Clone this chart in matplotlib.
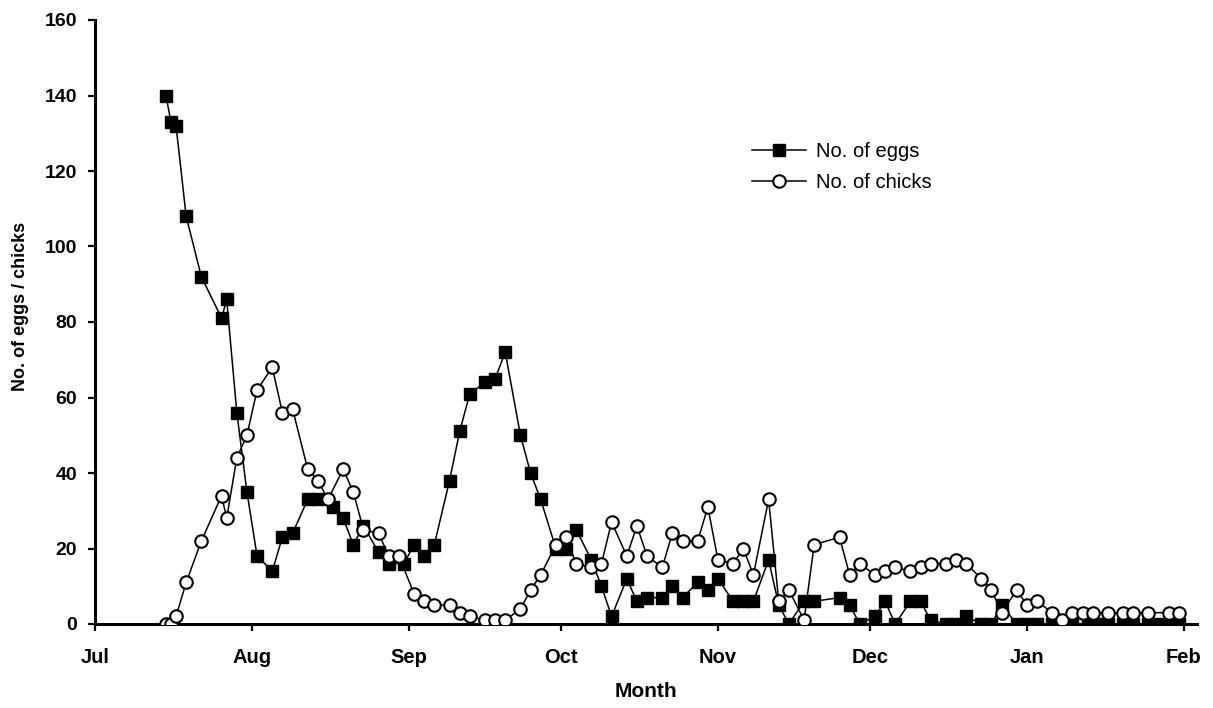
import matplotlib
matplotlib.use("Agg")
import matplotlib.pyplot as plt
import pandas as pd

plt.rcParams['font.family'] = ['Liberation Sans', 'DejaVu Sans']

# ---- data ----
egg_dates = ["2004-07-15", "2004-07-16", "2004-07-17", "2004-07-19", "2004-07-22", "2004-07-26",
             "2004-07-27", "2004-07-29", "2004-07-31", "2004-08-02", "2004-08-05", "2004-08-07",
             "2004-08-09", "2004-08-12", "2004-08-14", "2004-08-17", "2004-08-19", "2004-08-21",
             "2004-08-23", "2004-08-26", "2004-08-28", "2004-08-31", "2004-09-02", "2004-09-04",
             "2004-09-06", "2004-09-09", "2004-09-11", "2004-09-13", "2004-09-16", "2004-09-18",
             "2004-09-20", "2004-09-23", "2004-09-25", "2004-09-27", "2004-09-30", "2004-10-02",
             "2004-10-04", "2004-10-07", "2004-10-09", "2004-10-11", "2004-10-14", "2004-10-16",
             "2004-10-18", "2004-10-21", "2004-10-23", "2004-10-25", "2004-10-28", "2004-10-30",
             "2004-11-01", "2004-11-04", "2004-11-06", "2004-11-08", "2004-11-11", "2004-11-13",
             "2004-11-15", "2004-11-18", "2004-11-20", "2004-11-25", "2004-11-27", "2004-11-29",
             "2004-12-02", "2004-12-04", "2004-12-06", "2004-12-09", "2004-12-11", "2004-12-13",
             "2004-12-16", "2004-12-18", "2004-12-20", "2004-12-23", "2004-12-25", "2004-12-27",
             "2004-12-30", "2005-01-01", "2005-01-03", "2005-01-06", "2005-01-08", "2005-01-10",
             "2005-01-13", "2005-01-15", "2005-01-17", "2005-01-20", "2005-01-22", "2005-01-25",
             "2005-01-27", "2005-01-29", "2005-01-31"]
eggs = [140, 133, 132, 108, 92, 81,
        86, 56, 35, 18, 14, 23,
        24, 33, 33, 31, 28, 21,
        26, 19, 16, 16, 21, 18,
        21, 38, 51, 61, 64, 65,
        72, 50, 40, 33, 20, 20,
        25, 17, 10, 2, 12, 6,
        7, 7, 10, 7, 11, 9,
        12, 6, 6, 6, 17, 5,
        0, 6, 6, 7, 5, 0,
        2, 6, 0, 6, 6, 1,
        0, 0, 2, 0, 0, 5,
        0, 0, 0, 0, 0, 0,
        0, 0, 0, 0, 0, 0,
        0, 0, 0]

chick_dates = ["2004-07-15", "2004-07-16", "2004-07-17", "2004-07-19", "2004-07-22", "2004-07-26",
               "2004-07-27", "2004-07-29", "2004-07-31", "2004-08-02", "2004-08-05", "2004-08-07",
               "2004-08-09", "2004-08-12", "2004-08-14", "2004-08-16", "2004-08-19", "2004-08-21",
               "2004-08-23", "2004-08-26", "2004-08-28", "2004-08-30", "2004-09-02", "2004-09-04",
               "2004-09-06", "2004-09-09", "2004-09-11", "2004-09-13", "2004-09-16", "2004-09-18",
               "2004-09-20", "2004-09-23", "2004-09-25", "2004-09-27", "2004-09-30", "2004-10-02",
               "2004-10-04", "2004-10-07", "2004-10-09", "2004-10-11", "2004-10-14", "2004-10-16",
               "2004-10-18", "2004-10-21", "2004-10-23", "2004-10-25", "2004-10-28", "2004-10-30",
               "2004-11-01", "2004-11-04", "2004-11-06", "2004-11-08", "2004-11-11", "2004-11-13",
               "2004-11-15", "2004-11-18", "2004-11-20", "2004-11-25", "2004-11-27", "2004-11-29",
               "2004-12-02", "2004-12-04", "2004-12-06", "2004-12-09", "2004-12-11", "2004-12-13",
               "2004-12-16", "2004-12-18", "2004-12-20", "2004-12-23", "2004-12-25", "2004-12-27",
               "2004-12-30", "2005-01-01", "2005-01-03", "2005-01-06", "2005-01-08", "2005-01-10",
               "2005-01-12", "2005-01-14", "2005-01-17", "2005-01-20", "2005-01-22", "2005-01-25",
               "2005-01-29", "2005-01-31"]
chicks = [0, 0, 2, 11, 22, 34,
          28, 44, 50, 62, 68, 56,
          57, 41, 38, 33, 41, 35,
          25, 24, 18, 18, 8, 6,
          5, 5, 3, 2, 1, 1,
          1, 4, 9, 13, 21, 23,
          16, 15, 16, 27, 18, 26,
          18, 15, 24, 22, 22, 31,
          17, 16, 20, 13, 33, 6,
          9, 1, 21, 23, 13, 16,
          13, 14, 15, 14, 15, 16,
          16, 17, 16, 12, 9, 3,
          9, 5, 6, 3, 1, 3,
          3, 3, 3, 3, 3, 3,
          3, 3]

month_ticks = ["2004-07-01", "2004-08-01", "2004-09-01", "2004-10-01", "2004-11-01",
               "2004-12-01", "2005-01-01", "2005-02-01"]
month_labels = ["Jul", "Aug", "Sep", "Oct", "Nov", "Dec", "Jan", "Feb"]
y_ticks = [0, 20, 40, 60, 80, 100, 120, 140, 160]

# ---- figure ----
W, H = 1213, 708
fig = plt.figure(figsize=(W / 100, H / 100), dpi=100)
ax = fig.add_axes([95 / W, 84 / H, 1102 / W, 604 / H])

ed = pd.to_datetime(egg_dates)
cd = pd.to_datetime(chick_dates)

ax.plot(ed, eggs, color='black', lw=1.1, marker='s', ms=9,
        mfc='black', mec='black', label='No. of eggs', zorder=3)
ax.plot(cd, chicks, color='black', lw=1.1, marker='o', ms=9,
        mfc='white', mec='black', mew=1.5, label='No. of chicks', zorder=4)

ax.set_xlim(pd.Timestamp("2004-07-01"), pd.Timestamp("2005-02-03 14:00"))
ax.set_ylim(0, 160)
ax.set_xticks(pd.to_datetime(month_ticks))
ax.set_xticklabels(month_labels)
ax.set_yticks(y_ticks)

for s in ['top', 'right']:
    ax.spines[s].set_visible(False)
for s in ['left', 'bottom']:
    ax.spines[s].set_linewidth(2.2)
ax.spines['left'].set_zorder(5)
ax.spines['bottom'].set_zorder(2)

ax.tick_params(axis='both', direction='out', length=5, width=1.6)
ax.tick_params(axis='y', labelsize=14, pad=8)
ax.tick_params(axis='x', labelsize=14.5, pad=12)
for lab in ax.get_xticklabels() + ax.get_yticklabels():
    lab.set_fontweight('bold')

ax.set_xlabel("Month", fontsize=15, fontweight='bold', labelpad=11)
ax.set_ylabel("No. of eggs / chicks", fontsize=13, fontweight='bold')
ax.yaxis.set_label_coords((29 - 95) / 1102, (624 - 306) / 604)

ax.legend(loc='upper left', bbox_to_anchor=(752 / W, 1 - 142 / H),
          bbox_transform=fig.transFigure, frameon=False, fontsize=14.5,
          handlelength=2.7, handletextpad=0.5, labelspacing=0.62, borderpad=0,
          borderaxespad=0)

fig.savefig("out.png", dpi=100)
